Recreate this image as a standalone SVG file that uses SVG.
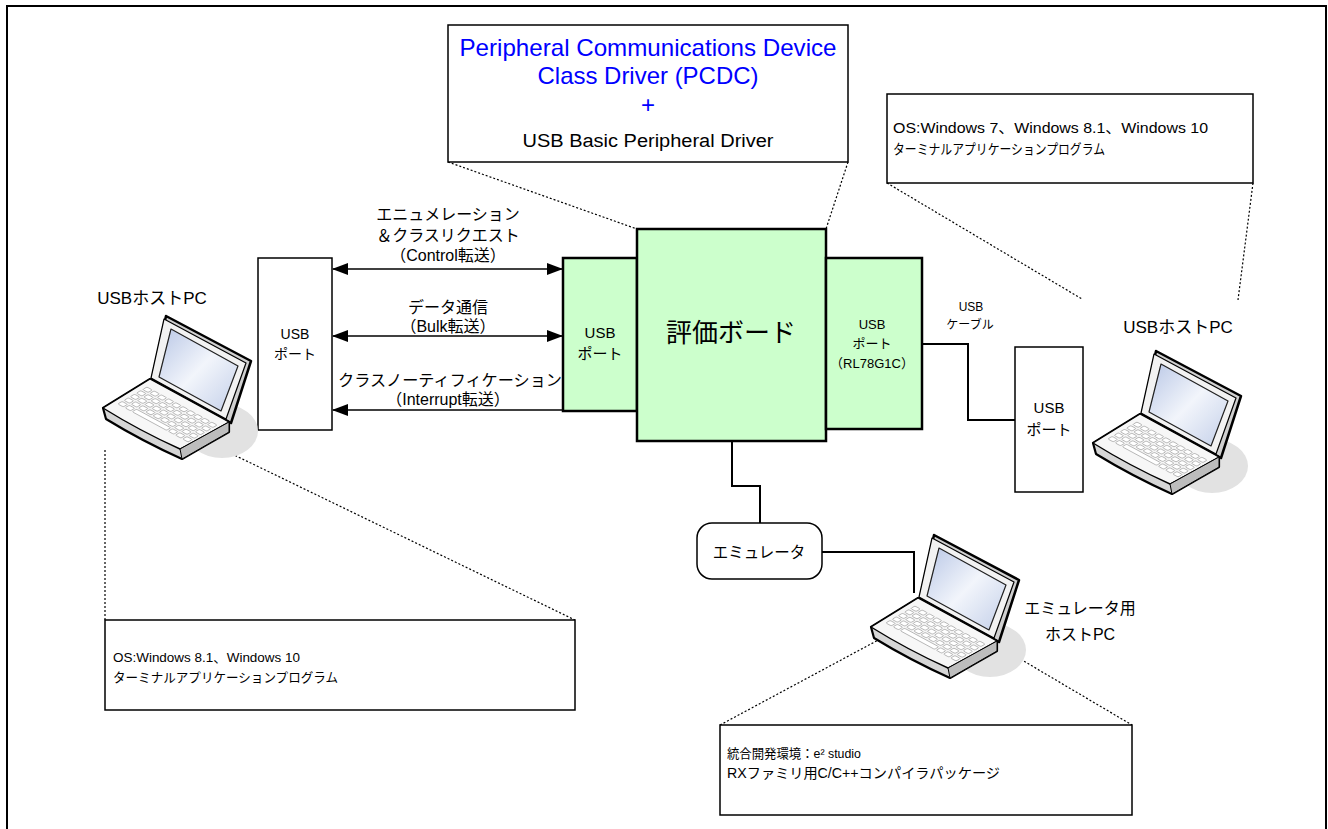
<svg xmlns="http://www.w3.org/2000/svg" width="1328" height="829" viewBox="0 0 1328 829">
  <style>
    .t{font-family:"Liberation Sans","Noto Sans CJK JP",sans-serif;fill:#000}
    .mid{text-anchor:middle}
    .blue{fill:#0000ff}
    .box{fill:#fff;stroke:#000;stroke-width:1.5}
    .green{fill:#ccffcc;stroke:#000;stroke-width:2.5}
    .dot{fill:none;stroke:#000;stroke-width:1.2;stroke-dasharray:2 2}
    .wire{fill:none;stroke:#000;stroke-width:2}
    .arrow{fill:none;stroke:#000;stroke-width:1.5}
    .key{fill:#fff;stroke:#9a9a9a;stroke-width:0.7}
  </style>
  <defs>
    <marker id="ah" viewBox="0 0 16 12" refX="15" refY="6" markerWidth="16" markerHeight="12" markerUnits="userSpaceOnUse" orient="auto-start-reverse">
      <path d="M0,0 L16,6 L0,12 Z" fill="#000"/>
    </marker>
    <linearGradient id="scr" x1="0" y1="0" x2="1" y2="1">
      <stop offset="0" stop-color="#b9c7e6"/>
      <stop offset="0.5" stop-color="#f2f5fb"/>
      <stop offset="1" stop-color="#c3cfe9"/>
    </linearGradient>
    <!-- one row of ten keys on a unit grid -->
    <g id="keyrow">
      <rect class="key" vector-effect="non-scaling-stroke" x="0.12" y="0.15" width="0.76" height="0.7" rx="0.15"/>
      <rect class="key" vector-effect="non-scaling-stroke" x="1.12" y="0.15" width="0.76" height="0.7" rx="0.15"/>
      <rect class="key" vector-effect="non-scaling-stroke" x="2.12" y="0.15" width="0.76" height="0.7" rx="0.15"/>
      <rect class="key" vector-effect="non-scaling-stroke" x="3.12" y="0.15" width="0.76" height="0.7" rx="0.15"/>
      <rect class="key" vector-effect="non-scaling-stroke" x="4.12" y="0.15" width="0.76" height="0.7" rx="0.15"/>
      <rect class="key" vector-effect="non-scaling-stroke" x="5.12" y="0.15" width="0.76" height="0.7" rx="0.15"/>
      <rect class="key" vector-effect="non-scaling-stroke" x="6.12" y="0.15" width="0.76" height="0.7" rx="0.15"/>
      <rect class="key" vector-effect="non-scaling-stroke" x="7.12" y="0.15" width="0.76" height="0.7" rx="0.15"/>
      <rect class="key" vector-effect="non-scaling-stroke" x="8.12" y="0.15" width="0.76" height="0.7" rx="0.15"/>
      <rect class="key" vector-effect="non-scaling-stroke" x="9.12" y="0.15" width="0.76" height="0.7" rx="0.15"/>
    </g>
    <!-- keyboard: four key rows plus a row with the space bar -->
    <g id="keys">
      <use href="#keyrow"/>
      <use href="#keyrow" y="1"/>
      <use href="#keyrow" y="2"/>
      <use href="#keyrow" y="3"/>
      <rect class="key" vector-effect="non-scaling-stroke" x="0.12" y="4.15" width="0.76" height="0.7" rx="0.15"/>
      <rect class="key" vector-effect="non-scaling-stroke" x="1.12" y="4.15" width="0.76" height="0.7" rx="0.15"/>
      <rect class="key" vector-effect="non-scaling-stroke" x="2.12" y="4.15" width="4.76" height="0.7" rx="0.15"/>
      <rect class="key" vector-effect="non-scaling-stroke" x="7.12" y="4.15" width="0.76" height="0.7" rx="0.15"/>
      <rect class="key" vector-effect="non-scaling-stroke" x="8.12" y="4.15" width="0.76" height="0.7" rx="0.15"/>
      <rect class="key" vector-effect="non-scaling-stroke" x="9.12" y="4.15" width="0.76" height="0.7" rx="0.15"/>
    </g>
    <!-- notebook PC icon -->
    <symbol id="laptop" overflow="visible">
      <ellipse cx="122" cy="116" rx="36" ry="27" fill="#e2e2e2"/>
      <!-- lid -->
      <polygon points="66,1 151,46 131,108 52,64" fill="#d0d0d0" stroke="#000" stroke-width="2.5" stroke-linejoin="round"/>
      <polygon points="64,4 146,48 126,104 51,63" fill="#f2f2f2" stroke="#000" stroke-width="1.2" stroke-linejoin="round"/>
      <polygon points="71,14 138,51 121,96 59,62" fill="url(#scr)" stroke="#222" stroke-width="1.2" stroke-linejoin="round"/>
      <!-- base -->
      <path d="M3,93 L50,64 L129,107 L129,117 Q106,130 82,144 Q42,126 6,104 Z" fill="#d6d6d6" stroke="#000" stroke-width="2.2" stroke-linejoin="round"/>
      <path d="M3,93 L50,64 L129,107 Q106,120 80,134 Q40,116 3,93 Z" fill="#f7f7f7" stroke="#000" stroke-width="1.4" stroke-linejoin="round"/>
      <path d="M80,134 L129,107 L129,117 L82,144 Z" fill="#bdbdbd" stroke="#000" stroke-width="1"/>
      <g transform="matrix(7.2 3.9 -6.2 3.6 47 71)">
        <use href="#keys"/>
      </g>
    </symbol>
  </defs>

  <!-- outer frame -->
  <rect x="7" y="6" width="1319" height="840" fill="#fff" stroke="#000" stroke-width="2"/>

  <!-- callout leader lines -->
  <g id="leaders">
    <line class="dot" x1="448" y1="162" x2="637" y2="229"/>
    <line class="dot" x1="848" y1="162" x2="826" y2="229"/>
    <line class="dot" x1="887" y1="183" x2="1082" y2="299"/>
    <line class="dot" x1="1253" y1="183" x2="1238" y2="300"/>
    <line class="dot" x1="105" y1="450" x2="105" y2="620"/>
    <line class="dot" x1="228" y1="452" x2="575" y2="620"/>
    <line class="dot" x1="720" y1="725" x2="882" y2="638"/>
    <line class="dot" x1="1000" y1="647" x2="1132" y2="725"/>
  </g>

  <!-- connectors -->
  <g id="connectors">
    <line class="arrow" x1="333" y1="269" x2="562" y2="269" marker-start="url(#ah)" marker-end="url(#ah)"/>
    <line class="arrow" x1="333" y1="336" x2="562" y2="336" marker-start="url(#ah)" marker-end="url(#ah)"/>
    <line class="arrow" x1="562" y1="410" x2="333" y2="410" marker-end="url(#ah)"/>
    <polyline class="wire" points="922,344 968,344 968,420 1015,420"/>
    <polyline class="wire" points="732,441 732,486 760,486 760,523"/>
    <polyline class="wire" points="822,552 914,552 914,593"/>
  </g>

  <!-- transfer labels -->
  <g id="transfer-labels" class="t mid" font-size="16">
    <text x="448" y="220">エニュメレーション</text>
    <text x="448" y="241">＆クラスリクエスト</text>
    <text x="448" y="261">（Control転送）</text>
    <text x="448" y="313">データ通信</text>
    <text x="448" y="332">（Bulk転送）</text>
    <text x="450" y="386" textLength="224" lengthAdjust="spacingAndGlyphs">クラスノーティフィケーション</text>
    <text x="448" y="405">（Interrupt転送）</text>
  </g>

  <g id="driver-callout">
    <rect class="box" x="448" y="25" width="400" height="137"/>
    <text class="t mid blue" x="648" y="56" font-size="24" textLength="377" lengthAdjust="spacingAndGlyphs">Peripheral Communications Device</text>
    <text class="t mid blue" x="648" y="84" font-size="24" textLength="221" lengthAdjust="spacingAndGlyphs">Class Driver (PCDC)</text>
    <text class="t mid blue" x="648" y="113" font-size="24">+</text>
    <text class="t mid" x="648" y="147" font-size="18" textLength="251" lengthAdjust="spacingAndGlyphs">USB Basic Peripheral Driver</text>
  </g>

  <g id="host-callout-right">
    <rect class="box" x="887" y="94" width="366" height="89"/>
    <text class="t" x="893" y="133" font-size="15" textLength="315" lengthAdjust="spacingAndGlyphs">OS:Windows 7、Windows 8.1、Windows 10</text>
    <text class="t" x="893" y="154" font-size="14" textLength="212" lengthAdjust="spacingAndGlyphs">ターミナルアプリケーションプログラム</text>
  </g>

  <g id="host-callout-left">
    <rect class="box" x="105" y="620" width="470" height="90"/>
    <text class="t" x="113" y="662" font-size="13" textLength="187" lengthAdjust="spacingAndGlyphs">OS:Windows 8.1、Windows 10</text>
    <text class="t" x="113" y="682" font-size="13" textLength="225" lengthAdjust="spacingAndGlyphs">ターミナルアプリケーションプログラム</text>
  </g>

  <g id="ide-callout">
    <rect class="box" x="720" y="725" width="412" height="90"/>
    <text class="t" x="727" y="758" font-size="13" textLength="134" lengthAdjust="spacingAndGlyphs">統合開発環境：e² studio</text>
    <text class="t" x="727" y="778" font-size="14" textLength="273" lengthAdjust="spacingAndGlyphs">RXファミリ用C/C++コンパイラパッケージ</text>
  </g>

  <g id="host-port-left">
    <rect class="box" x="258" y="258" width="74" height="172"/>
    <text class="t mid" x="295" y="339" font-size="14">USB</text>
    <text class="t mid" x="295" y="359" font-size="14">ポート</text>
  </g>

  <g id="board-port-left">
    <rect class="green" x="563" y="258" width="74" height="153"/>
    <text class="t mid" x="600" y="338" font-size="15">USB</text>
    <text class="t mid" x="600" y="359" font-size="15">ポート</text>
  </g>

  <g id="board">
    <rect class="green" x="637" y="229" width="189" height="212"/>
    <text class="t mid" x="731" y="342" font-size="26">評価ボード</text>
  </g>

  <g id="board-port-right">
    <rect class="green" x="826" y="258" width="96" height="171"/>
    <text class="t mid" x="872" y="329" font-size="13">USB</text>
    <text class="t mid" x="872" y="348" font-size="13">ポート</text>
    <text class="t mid" x="872" y="368" font-size="13">（RL78G1C）</text>
  </g>

  <g id="cable-label" class="t mid" font-size="12">
    <text x="971" y="311">USB</text>
    <text x="970" y="329">ケーブル</text>
  </g>

  <g id="host-port-right">
    <rect class="box" x="1015" y="347" width="68" height="145"/>
    <text class="t mid" x="1049" y="413" font-size="15">USB</text>
    <text class="t mid" x="1049" y="435" font-size="15">ポート</text>
  </g>

  <g id="emulator">
    <rect class="box" x="697" y="523" width="125" height="56" rx="15"/>
    <text class="t mid" x="759" y="558" font-size="15.5">エミュレータ</text>
  </g>

  <g id="host-pc-left">
    <text class="t mid" x="152" y="304" font-size="17">USBホストPC</text>
    <use href="#laptop" x="100" y="315"/>
  </g>

  <g id="host-pc-right">
    <text class="t mid" x="1178" y="333" font-size="17">USBホストPC</text>
    <use href="#laptop" x="1090" y="350"/>
  </g>

  <g id="emulator-host-pc">
    <use href="#laptop" x="868" y="534"/>
    <text class="t mid" x="1080" y="614" font-size="16">エミュレータ用</text>
    <text class="t mid" x="1080" y="640" font-size="16">ホストPC</text>
  </g>
</svg>
